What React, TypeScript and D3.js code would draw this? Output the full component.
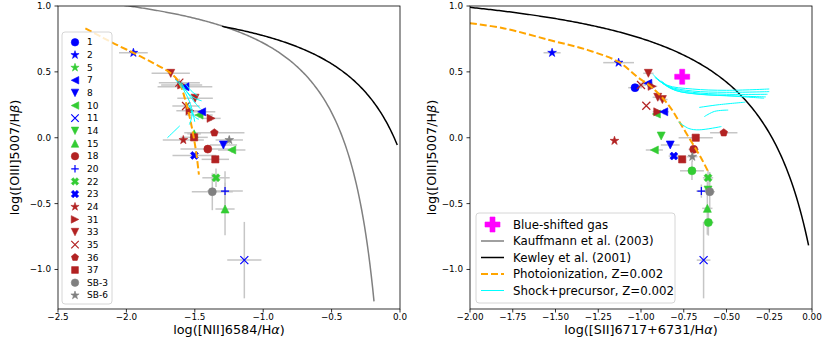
import React from 'react';
import * as d3 from 'd3';

const FONT = 'DejaVu Sans, Verdana, sans-serif';

// ---------- legend keys (left panel) ----------
const legendKeys = ['1', '2', '5', '7', '8', '10', '11', '14', '15', '18', '20', '22', '23', '24', '31', '33', '35', '36', '37', 'SB-3', 'SB-6'];

const BLUE = '#0000ff';
const GREEN = '#33cc33';
const RED = '#b22222';
const GRAY = '#808080';

const STYLE: Record<string, { m: string; c: string }> = {
  '1': { m: 'o', c: BLUE }, '2': { m: '*', c: BLUE }, '5': { m: '*', c: GREEN },
  '7': { m: '<', c: BLUE }, '8': { m: 'v', c: BLUE }, '10': { m: '<', c: GREEN },
  '11': { m: 'x', c: BLUE }, '14': { m: 'v', c: GREEN }, '15': { m: '^', c: GREEN },
  '18': { m: 'o', c: RED }, '20': { m: '+', c: BLUE }, '22': { m: 'X', c: GREEN },
  '23': { m: 'X', c: BLUE }, '24': { m: '*', c: RED }, '31': { m: '>', c: RED },
  '33': { m: 'v', c: RED }, '35': { m: 'x', c: RED }, '36': { m: 'p', c: RED },
  '37': { m: 's', c: RED }, 'SB-3': { m: 'o', c: GRAY }, 'SB-6': { m: '*', c: GRAY },
  'g': { m: 'o', c: GREEN },
};

// ---------- left panel: [NII]/Ha ----------
const nKeys = ['2', '33', '35', '31', '7', '33', '35', '31', '10', '7', '31', '36', '15', '37', '24', 'SB-6', '18', '8', '10', '23', '37', '22', 'SB-3', '20', '15', '11'];
const nX = [-1.949, -1.676, -1.613, -1.596, -1.572, -1.498, -1.564, -1.535, -1.469, -1.45, -1.381, -1.357, -1.505, -1.505, -1.584, -1.248, -1.405, -1.291, -1.23, -1.503, -1.35, -1.345, -1.372, -1.279, -1.279, -1.138];
const nY = [0.645, 0.489, 0.418, 0.40, 0.387, 0.30, 0.241, 0.205, 0.172, 0.197, 0.147, 0.038, 0.03, 0.003, -0.017, -0.017, -0.086, -0.055, -0.093, -0.134, -0.164, -0.304, -0.41, -0.405, -0.541, -0.929];
const nXerr = [0.105, 0.14, 0.15, 0.15, 0.2, 0.13, 0.1, 0.1, 0.1, 0.1, 0.07, 0.22, 0.05, 0.1, 0.15, 0.1, 0.2, 0.1, 0.1, 0.16, 0.1, 0.1, 0.15, 0.13, 0.07, 0.125];
const nYerr = [0.02, 0.03, 0.03, 0.03, 0.03, 0.03, 0.03, 0.03, 0.02, 0.02, 0.02, 0.02, 0.02, 0.02, 0.02, 0.03, 0.02, 0.03, 0.02, 0.02, 0.02, 0.07, 0.14, 0.15, 0.2, 0.29];

// ---------- right panel: [SII]/Ha ----------
const sKeys = ['2', '2', '33', '1', '35', '7', '31', '35', '33', '33', '10', '31', '7', '24', '14', '10', '8', '23', '37', '37', '18', 'SB-6', 'g', '36', '22', '14', '20', 'SB-3', '15', 'g', '11'];
const sX = [-1.52, -1.131, -0.957, -1.035, -1.0, -0.96, -0.935, -0.969, -0.902, -0.875, -0.91, -0.902, -0.867, -1.155, -0.882, -0.922, -0.829, -0.808, -0.759, -0.68, -0.692, -0.70, -0.702, -0.516, -0.608, -0.608, -0.647, -0.598, -0.612, -0.606, -0.634];
const sY = [0.645, 0.57, 0.489, 0.38, 0.40, 0.413, 0.39, 0.243, 0.307, 0.29, 0.18, 0.197, 0.197, -0.023, 0.013, -0.093, -0.055, -0.139, -0.164, 0.0, -0.088, -0.144, -0.251, 0.038, -0.304, -0.397, -0.405, -0.41, -0.536, -0.643, -0.929];
const sXerr = [0.05, 0.09, 0.03, 0.04, 0.03, 0.03, 0.03, 0, 0.03, 0.03, 0.02, 0.03, 0.03, 0, 0, 0.05, 0.055, 0.03, 0.02, 0.1, 0.03, 0.03, 0.07, 0.08, 0.03, 0.02, 0.03, 0.03, 0.03, 0.03, 0.04];
const sYerr = [0.01, 0.01, 0.02, 0.02, 0.02, 0.02, 0.02, 0, 0.02, 0.02, 0.02, 0.02, 0.02, 0, 0, 0.01, 0.02, 0.02, 0.02, 0.02, 0.02, 0.04, 0.07, 0.02, 0.06, 0.02, 0.05, 0.15, 0.2, 0.1, 0.29];

const blueShiftX = [-0.759];
const blueShiftY = [0.463];

// ---------- photoionization model Z=0.002 ----------
const photoNX = [-2.3, -2.2, -2.1, -1.95, -1.8, -1.69, -1.62, -1.56, -1.52, -1.49, -1.47];
const photoNY = [0.83, 0.775, 0.72, 0.645, 0.565, 0.5, 0.43, 0.25, 0.07, -0.11, -0.28];
const photoSX = [-2.0, -1.8, -1.53, -1.31, -1.13, -1.02, -0.93, -0.84, -0.78, -0.71, -0.65, -0.61];
const photoSY = [0.87, 0.83, 0.74, 0.665, 0.575, 0.46, 0.375, 0.25, 0.13, -0.02, -0.15, -0.25];

// ---------- shock+precursor model tracks ----------
const shockN: [number, number][][] = [
  [[-1.64, 0.44], [-1.58, 0.36], [-1.53, 0.25], [-1.5, 0.12]],
  [[-1.62, 0.43], [-1.56, 0.35], [-1.51, 0.28], [-1.46, 0.22]],
  [[-1.6, 0.42], [-1.55, 0.34], [-1.5, 0.3], [-1.45, 0.28]],
  [[-1.57, 0.41], [-1.52, 0.35], [-1.48, 0.32]],
  [[-1.55, 0.26], [-1.52, 0.18], [-1.54, 0.1]],
  [[-1.53, 0.2], [-1.49, 0.15], [-1.47, 0.14]],
  [[-1.7, 0.0], [-1.66, 0.04], [-1.61, 0.09]],
];
const shockS: [number, number][][] = [
  [[-0.93, 0.48], [-0.85, 0.4], [-0.7, 0.37], [-0.5, 0.36], [-0.25, 0.37]],
  [[-0.92, 0.46], [-0.84, 0.39], [-0.7, 0.355], [-0.5, 0.345], [-0.25, 0.35]],
  [[-0.91, 0.45], [-0.83, 0.38], [-0.7, 0.345], [-0.5, 0.33], [-0.26, 0.33]],
  [[-0.9, 0.44], [-0.82, 0.37], [-0.7, 0.335], [-0.5, 0.32], [-0.27, 0.31]],
  [[-0.88, 0.43], [-0.8, 0.36], [-0.65, 0.33], [-0.45, 0.315], [-0.28, 0.3]],
  [[-0.66, 0.23], [-0.55, 0.25], [-0.39, 0.27]],
  [[-0.63, 0.16], [-0.57, 0.2], [-0.49, 0.21]],
  [[-0.78, 0.12], [-0.72, 0.07], [-0.66, 0.06], [-0.53, 0.085]],
];

const nTicks = [-2.5, -2.0, -1.5, -1.0, -0.5, 0.0];
const sTicks = [-2.0, -1.75, -1.5, -1.25, -1.0, -0.75, -0.5, -0.25, 0.0];
const yTicks = [1.0, 0.5, 0.0, -0.5, -1.0];

const rightLegend = ['Blue-shifted gas', 'Kauffmann et al. (2003)', 'Kewley et al. (2001)', 'Photoionization, Z=0.002', 'Shock+precursor, Z=0.002'];

// ---------- helpers ----------
const TOP = 6, BOTTOM = 309;
const yScale = d3.scaleLinear().domain([-1.3, 1.0]).range([BOTTOM, TOP]);

const poly = (pts: number[][]) => 'M' + pts.map(p => `${p[0].toFixed(2)},${p[1].toFixed(2)}`).join('L') + 'Z';

function markerPath(m: string, s: number): string {
  const r = s / 2;
  switch (m) {
    case 'o': return `M${r},0A${r},${r} 0 1,1 ${-r},0A${r},${r} 0 1,1 ${r},0Z`;
    case '^': return poly([[0, -r], [-r, r], [r, r]]);
    case 'v': return poly([[0, r], [-r, -r], [r, -r]]);
    case '<': return poly([[-r, 0], [r, -r], [r, r]]);
    case '>': return poly([[r, 0], [-r, -r], [-r, r]]);
    case 's': { const h = r * 0.9; return poly([[-h, -h], [h, -h], [h, h], [-h, h]]); }
    case 'p': {
      const pts = d3.range(5).map(i => { const a = -Math.PI / 2 + i * 2 * Math.PI / 5; return [r * Math.cos(a), r * Math.sin(a)]; });
      return poly(pts);
    }
    case '*': {
      const R = r * 1.15, ri = R * 0.382;
      const pts = d3.range(10).map(i => { const a = -Math.PI / 2 + i * Math.PI / 5; const rr = i % 2 === 0 ? R : ri; return [rr * Math.cos(a), rr * Math.sin(a)]; });
      return poly(pts);
    }
    case 'X': {
      const v = [[-1, -2], [0, -1], [1, -2], [2, -1], [1, 0], [2, 1], [1, 2], [0, 1], [-1, 2], [-2, 1], [-1, 0], [-2, -1]];
      return poly(v.map(p => [p[0] / 4 * s, p[1] / 4 * s]));
    }
    case 'P': {
      const v = [[-1, -3], [1, -3], [1, -1], [3, -1], [3, 1], [1, 1], [1, 3], [-1, 3], [-1, 1], [-3, 1], [-3, -1], [-1, -1]];
      return poly(v.map(p => [p[0] / 6 * s, p[1] / 6 * s]));
    }
    case 'x': return `M${-r},${-r}L${r},${r}M${-r},${r}L${r},${-r}`;
    case '+': return `M${-r},0L${r},0M0,${-r}L0,${r}`;
    default: return '';
  }
}

function Marker({ k, x, y, s = 8 }: { k: string; x: number; y: number; s?: number }) {
  const st = STYLE[k];
  const open = st.m === 'x' || st.m === '+';
  return (
    <path d={markerPath(st.m, s)} transform={`translate(${x},${y})`}
      fill={open ? 'none' : st.c} stroke={st.c} strokeWidth={open ? 1.2 : 0.6} />
  );
}

const fmtMinus = (s: string) => s.replace('-', '\u2212');

function Panel(props: {
  id: string; x0: number; x1: number; domain: [number, number]; ticks: number[]; tickFmt: string;
  keys: string[]; xs: number[]; ys: number[]; xe: number[]; ye: number[];
  photoX: number[]; photoY: number[]; shock: [number, number][][];
  curves: { pts: [number, number][]; color: string }[];
  xlabel: React.ReactNode; ylabelX: number;
  extra?: (x: d3.ScaleLinear<number, number>) => React.ReactNode;
}) {
  const { x0, x1 } = props;
  const x = d3.scaleLinear().domain(props.domain).range([x0, x1]);
  const line = d3.line<[number, number]>().x(d => x(d[0])).y(d => yScale(d[1]));
  const smooth = d3.line<[number, number]>().x(d => x(d[0])).y(d => yScale(d[1])).curve(d3.curveCatmullRom);
  const fmt = d3.format(props.tickFmt);
  const clip = `clip-${props.id}`;
  const photo: [number, number][] = props.photoX.map((v, i) => [v, props.photoY[i]]);
  return (
    <g>
      <defs>
        <clipPath id={clip}><rect x={x0} y={TOP} width={x1 - x0} height={BOTTOM - TOP} /></clipPath>
      </defs>
      <g clipPath={`url(#${clip})`}>
        {props.xs.map((v, i) => (
          <g key={'e' + i} stroke="#c6c6c6" strokeWidth={1.5}>
            {props.xe[i] > 0 && <line x1={x(v - props.xe[i])} x2={x(v + props.xe[i])} y1={yScale(props.ys[i])} y2={yScale(props.ys[i])} />}
            {props.ye[i] > 0 && <line x1={x(v)} x2={x(v)} y1={yScale(props.ys[i] - props.ye[i])} y2={yScale(props.ys[i] + props.ye[i])} />}
          </g>
        ))}
        {props.xs.map((v, i) => <Marker key={'m' + i} k={props.keys[i]} x={x(v)} y={yScale(props.ys[i])} />)}
        {props.curves.map((c, i) => <path key={'c' + i} d={line(c.pts) || ''} fill="none" stroke={c.color} strokeWidth={1.5} />)}
        <path d={smooth(photo) || ''} fill="none" stroke="#ffa500" strokeWidth={2} strokeDasharray="7,3" />
        {props.shock.map((s, i) => <path key={'s' + i} d={smooth(s) || ''} fill="none" stroke="#00ffff" strokeWidth={1} />)}
        {props.extra && props.extra(x)}
      </g>
      <rect x={x0} y={TOP} width={x1 - x0} height={BOTTOM - TOP} fill="none" stroke="#000" strokeWidth={0.8} />
      {props.ticks.map(t => (
        <g key={'xt' + t}>
          <line x1={x(t)} x2={x(t)} y1={BOTTOM} y2={BOTTOM + 3.5} stroke="#000" strokeWidth={0.8} />
          <text x={x(t)} y={BOTTOM + 10.5} textAnchor="middle" fontSize={8.8} fontFamily={FONT}>{fmtMinus(fmt(t))}</text>
        </g>
      ))}
      {yTicks.map(t => (
        <g key={'yt' + t}>
          <line x1={x0 - 3.5} x2={x0} y1={yScale(t)} y2={yScale(t)} stroke="#000" strokeWidth={0.8} />
          <text x={x0 - 7} y={yScale(t)} dy="0.33em" textAnchor="end" fontSize={8.8} fontFamily={FONT}>{fmtMinus(d3.format('.1f')(t))}</text>
        </g>
      ))}
      <text x={(x0 + x1) / 2} y={334} textAnchor="middle" fontSize={12.8} fontFamily={FONT}>{props.xlabel}</text>
      <text transform={`translate(${props.ylabelX},${(TOP + BOTTOM) / 2}) rotate(-90)`} textAnchor="middle" dy="0.35em" fontSize={12.8} fontFamily={FONT}>
        log([OIII]5007/H<tspan fontStyle="italic">β</tspan>)
      </text>
    </g>
  );
}

export default function App() {
  const kauff: [number, number][] = d3.range(-2.5, -0.18, 0.01).map(v => [v, 0.61 / (v - 0.05) + 1.3]);
  const kewN: [number, number][] = d3.range(-1.3, -0.015, 0.01).map(v => [v, 0.61 / (v - 0.47) + 1.19]);
  const kewS: [number, number][] = d3.range(-2.0, -0.015, 0.01).map(v => [v, 0.72 / (v - 0.32) + 1.30]);

  const lgY0 = 42.3, lgDy = 12.65;
  const rgY0 = 224.5, rgDy = 16.5;

  return (
    <svg width={830} height={346} style={{ position: 'absolute', left: 0, top: 0, background: '#fff' }} xmlns="http://www.w3.org/2000/svg">
      <rect x={0} y={0} width={830} height={346} fill="#fff" />
      <Panel id="n" x0={58} x1={400} domain={[-2.5, 0]} ticks={nTicks} tickFmt=".1f"
        keys={nKeys} xs={nX} ys={nY} xe={nXerr} ye={nYerr}
        photoX={photoNX} photoY={photoNY} shock={shockN}
        curves={[{ pts: kauff, color: GRAY }, { pts: kewN, color: '#000' }]}
        xlabel={<>log([NII]6584/H<tspan fontStyle="italic">α</tspan>)</>} ylabelX={15} />
      <Panel id="s" x0={470} x1={812} domain={[-2, 0]} ticks={sTicks} tickFmt=".2f"
        keys={sKeys} xs={sX} ys={sY} xe={sXerr} ye={sYerr}
        photoX={photoSX} photoY={photoSY} shock={shockS}
        curves={[{ pts: kewS, color: '#000' }]}
        xlabel={<>log([SII]6717+6731/H<tspan fontStyle="italic">α</tspan>)</>} ylabelX={432}
        extra={(x) => blueShiftX.map((v, i) => (
          <path key={'bs' + i} d={markerPath('P', 15)} transform={`translate(${x(v)},${yScale(blueShiftY[i])})`} fill="#ff00ff" stroke="#ff00ff" strokeWidth={0.6} />
        ))} />

      {/* left legend */}
      <rect x={62} y={32} width={50} height={272} rx={3} fill="#fff" fillOpacity={0.8} stroke="#cccccc" strokeWidth={0.8} />
      {legendKeys.map((k, i) => (
        <g key={'lg' + k}>
          <Marker k={k} x={75} y={lgY0 + i * lgDy} s={7.5} />
          <text x={87} y={lgY0 + i * lgDy} dy="0.35em" fontSize={9} fontFamily={FONT}>{k}</text>
        </g>
      ))}

      {/* right legend */}
      <rect x={476} y={213} width={199} height={90} rx={3} fill="#fff" fillOpacity={0.8} stroke="#cccccc" strokeWidth={0.8} />
      <path d={markerPath('P', 15)} transform={`translate(492.5,${rgY0})`} fill="#ff00ff" stroke="#ff00ff" strokeWidth={0.6} />
      <line x1={481} x2={504} y1={rgY0 + rgDy} y2={rgY0 + rgDy} stroke={GRAY} strokeWidth={1.5} />
      <line x1={481} x2={504} y1={rgY0 + 2 * rgDy} y2={rgY0 + 2 * rgDy} stroke="#000" strokeWidth={1.5} />
      <line x1={481} x2={504} y1={rgY0 + 3 * rgDy} y2={rgY0 + 3 * rgDy} stroke="#ffa500" strokeWidth={2} strokeDasharray="7,3" />
      <line x1={481} x2={504} y1={rgY0 + 4 * rgDy} y2={rgY0 + 4 * rgDy} stroke="#00ffff" strokeWidth={1} />
      {rightLegend.map((t, i) => (
        <text key={'rl' + i} x={513} y={rgY0 + i * rgDy} dy="0.35em" fontSize={11.8} fontFamily={FONT}>{t}</text>
      ))}
    </svg>
  );
}
